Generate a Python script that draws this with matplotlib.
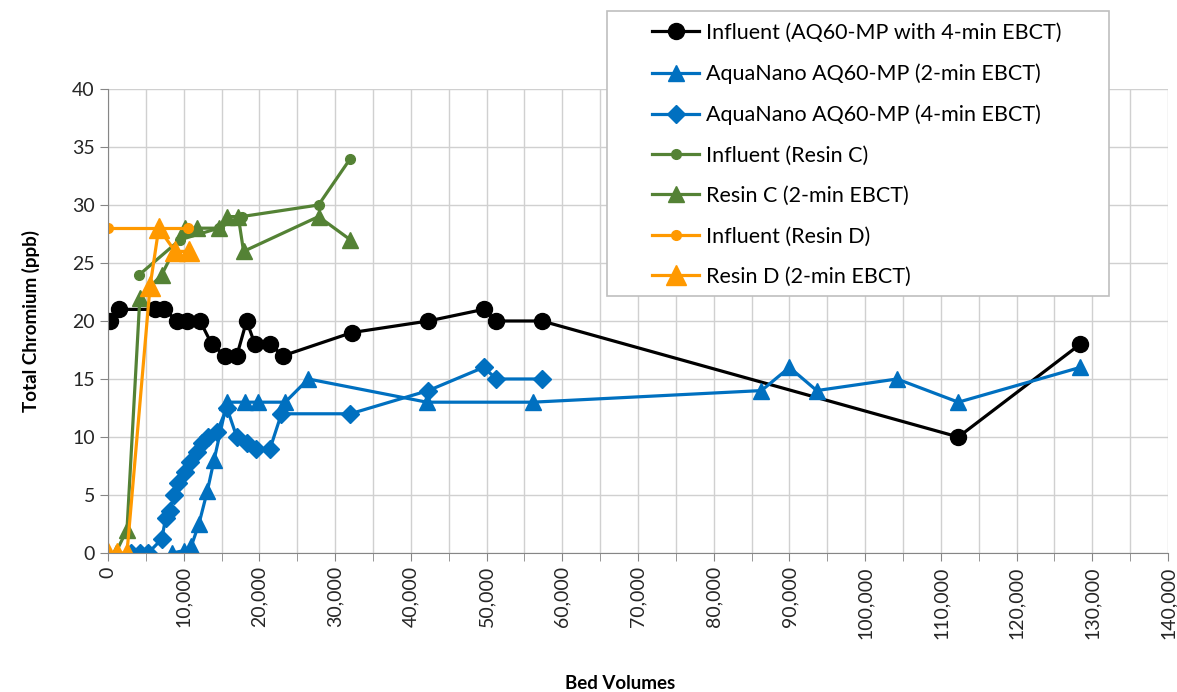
import matplotlib.pyplot as plt
from matplotlib.patches import Rectangle
from matplotlib.ticker import MultipleLocator, FuncFormatter

plt.rcParams['font.family'] = ['Lato', 'DejaVu Sans']

# bed volumes / total chromium (ppb) for each series
inf_aq_bv = [200, 1500, 6200, 7400, 9150, 10400, 12150, 13700, 15450, 17000,
             18300, 19400, 21400, 23100, 32200, 42300, 49600, 51300, 57300,
             112300, 128400]
inf_aq_cr = [20, 21, 21, 21, 20, 20, 20, 18, 17, 17,
             20, 18, 18, 17, 19, 20, 21, 20, 20,
             10, 18]

aq2_bv = [8500, 10000, 11000, 12000, 13100, 14000, 15700, 18100, 19800, 23400,
          26450, 42100, 56100, 86300, 90000, 93600, 104200, 112300, 128400]
aq2_cr = [0, 0.2, 0.6, 2.5, 5.3, 8, 13, 13, 13, 13,
          15, 13, 13, 14, 16, 14, 15, 13, 16]

aq4_bv = [3000, 4200, 5300, 7100, 7600, 8200, 8700, 9300, 10200, 10800,
          11700, 12400, 13250, 14350, 15700, 17000, 18300, 19600, 21400,
          22900, 32000, 42300, 49600, 51300, 57300]
aq4_cr = [0, 0, 0, 1.2, 3, 3.6, 5, 6, 7, 7.8,
          8.7, 9.5, 10, 10.4, 12.5, 10, 9.5, 9, 9,
          12, 12, 14, 16, 15, 15]

inf_c_bv = [4150, 9500, 14600, 17650, 27800, 32000]
inf_c_cr = [24, 27, 28, 29, 30, 34]

resin_c_bv = [1000, 2500, 4200, 7100, 10200, 11700, 14600, 15700, 17200, 17900,
              27800, 32000]
resin_c_cr = [0, 2, 22, 24, 28, 28, 28, 29, 29, 26,
              29, 27]

inf_d_bv = [0, 10500]
inf_d_cr = [28, 28]

resin_d_bv = [0, 1200, 2500, 5550, 6700, 8850, 10700]
resin_d_cr = [0, 0, 0, 23, 28, 26, 26]

black = '#000000'
blue = '#0070C0'
green = '#548235'
orange = '#FF9900'

fig = plt.figure(figsize=(11.77, 6.92), dpi=100)
ax = fig.add_axes([0.0918, 0.2009, 0.9006, 0.6705])

lw = 2.3
ax.plot(inf_aq_bv, inf_aq_cr, color=black, lw=lw, marker='o', ms=11.5,
        label='Influent (AQ60-MP with 4-min EBCT)')
ax.plot(aq2_bv, aq2_cr, color=blue, lw=lw, marker='^', ms=11.5,
        label='AquaNano AQ60-MP (2-min EBCT)')
ax.plot(aq4_bv, aq4_cr, color=blue, lw=lw, marker='D', ms=9,
        label='AquaNano AQ60-MP (4-min EBCT)')
ax.plot(inf_c_bv, inf_c_cr, color=green, lw=lw, marker='o', ms=7,
        label='Influent (Resin C)')
ax.plot(resin_c_bv, resin_c_cr, color=green, lw=lw, marker='^', ms=12,
        label='Resin C (2-min EBCT)')
ax.plot(inf_d_bv, inf_d_cr, color=orange, lw=lw, marker='o', ms=7,
        label='Influent (Resin D)')
ax.plot(resin_d_bv, resin_d_cr, color=orange, lw=lw, marker='^', ms=15,
        label='Resin D (2-min EBCT)')

ax.set_xlim(0, 140000)
ax.set_ylim(0, 40)
ax.xaxis.set_major_locator(MultipleLocator(10000))
ax.xaxis.set_minor_locator(MultipleLocator(5000))
ax.yaxis.set_major_locator(MultipleLocator(5))
ax.xaxis.set_major_formatter(FuncFormatter(lambda v, p: f'{int(v):,}'))

ax.grid(True, which='both', color='#d0d0d0', lw=1)
ax.set_axisbelow(True)
for s in ['top', 'right']:
    ax.spines[s].set_visible(False)
for s in ['left', 'bottom']:
    ax.spines[s].set_color('#868686')
ax.tick_params(axis='both', which='both', direction='out', length=6,
               color='#868686', labelsize=14, labelcolor='#262626')
ax.tick_params(axis='x', which='major', labelrotation=90)

ax.set_xlabel('Bed Volumes', fontsize=13.5, fontweight='bold')
ax.set_ylabel('Total Chromium (ppb)', fontsize=13.5, fontweight='bold')
ax.xaxis.set_label_coords(0.483, -0.262)
ax.yaxis.set_label_coords(-0.064, 0.5)

# legend box drawn separately so the side padding can be wider than top/bottom
box = Rectangle((607 / 1177, 1 - 296 / 692), 502 / 1177, 285 / 692,
                transform=fig.transFigure, facecolor='white',
                edgecolor='#bfbfbf', lw=1.2, zorder=5)
fig.patches.append(box)
leg = fig.legend(loc='upper left', bbox_to_anchor=(652 / 1177, 1 - 23 / 692),
                 fontsize=15.5, frameon=False, handlelength=2.2,
                 handletextpad=0.3, borderpad=0, labelspacing=0.95,
                 borderaxespad=0)
leg.set_zorder(6)

fig.savefig('out.png', dpi=100)
